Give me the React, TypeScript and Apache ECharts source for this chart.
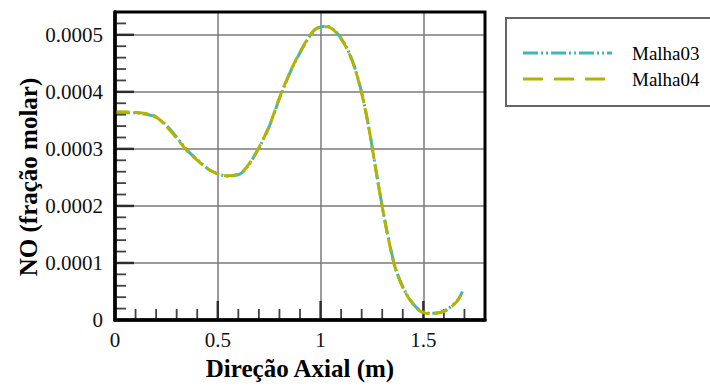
import React, { useEffect, useRef } from "react";
import * as echarts from "echarts";

const malha03X = [0, 0.1, 0.185, 0.233, 0.29, 0.35, 0.41, 0.46, 0.51, 0.55, 0.62, 0.69, 0.75, 0.81, 0.88, 0.97, 1.03, 1.076, 1.125, 1.165, 1.205, 1.238, 1.27, 1.303, 1.335, 1.367, 1.416, 1.48, 1.545, 1.61, 1.667, 1.69];
const malha03Y = [0.000364, 0.000363, 0.000358, 0.000347, 0.000325, 0.000298, 0.000278, 0.000263, 0.000255, 0.000252, 0.000259, 0.000295, 0.000339, 0.000398, 0.000455, 0.000508, 0.000515, 0.000505, 0.000479, 0.000444, 0.000391, 0.000331, 0.000262, 0.000193, 0.000135, 0.000088, 0.000047, 0.0000175, 0.0000117, 0.0000175, 0.000035, 0.00005];
const malha04X = [0, 0.1, 0.185, 0.233, 0.29, 0.35, 0.41, 0.46, 0.51, 0.55, 0.62, 0.69, 0.75, 0.81, 0.88, 0.97, 1.03, 1.076, 1.125, 1.165, 1.205, 1.238, 1.27, 1.303, 1.335, 1.367, 1.416, 1.48, 1.545, 1.61, 1.667, 1.69];
const malha04Y = [0.000365, 0.000364, 0.000359, 0.000346, 0.000323, 0.000297, 0.000277, 0.000263, 0.000255, 0.000253, 0.00026, 0.000296, 0.00034, 0.000399, 0.000456, 0.000509, 0.000514, 0.000504, 0.000478, 0.000443, 0.00039, 0.00033, 0.000261, 0.000192, 0.000134, 0.000087, 0.000046, 0.0000165, 0.0000107, 0.0000165, 0.000034, 0.000051];
const seriesNames = ["Malha03", "Malha04"];
const xTitle = "Direção Axial (m)";
const yTitle = "NO (fração molar)";

const xMajorTicks = [0.5, 1, 1.5];
const xMinorTicks = [0.1, 0.2, 0.3, 0.4, 0.6, 0.7, 0.8, 0.9, 1.1, 1.2, 1.3, 1.4, 1.6, 1.7];
const yMajorTicks = [0.0001, 0.0002, 0.0003, 0.0004, 0.0005];
const yMinorTicks = [
  0.00002, 0.00004, 0.00006, 0.00008, 0.00012, 0.00014, 0.00016, 0.00018, 0.00022, 0.00024, 0.00026, 0.00028,
  0.00032, 0.00034, 0.00036, 0.00038, 0.00042, 0.00044, 0.00046, 0.00048, 0.00052,
];

const CYAN = "#3fb6b8";
const OLIVE = "#b4b400";
const TICK = "#111111";
const SERIF = "Liberation Serif, serif";
const MAJOR_LEN = 19;
const MINOR_LEN = 11;

export default function App() {
  const ref = useRef<HTMLDivElement>(null);
  useEffect(() => {
    if (!ref.current) return;
    const chart = echarts.init(ref.current, undefined, { renderer: "svg" });
    const zip = (xs: number[], ys: number[]) => xs.map((x, i) => [x, ys[i]]);
    const XMAX = 1.8;
    const YMAX = 0.00054;
    const GRID = { left: 115, top: 12, right: 225, bottom: 68 };
    const PLOT_W = 710 - GRID.left - GRID.right;
    const PLOT_H = 388 - GRID.top - GRID.bottom;
    // half a tick length, expressed in axis units, so each tick starts at the axis and points inward
    const yHalf = (len: number) => (len / 2 / PLOT_H) * YMAX;
    const xHalf = (len: number) => (len / 2 / PLOT_W) * XMAX;

    // [x, y, kind] where kind 1 = major, 0 = minor
    const xTickData = [
      ...xMajorTicks.map((v) => [v, yHalf(MAJOR_LEN), 1]),
      ...xMinorTicks.map((v) => [v, yHalf(MINOR_LEN), 0]),
    ];
    const yTickData = [
      ...yMajorTicks.map((v) => [xHalf(MAJOR_LEN), v, 1]),
      ...yMinorTicks.map((v) => [xHalf(MINOR_LEN), v, 0]),
    ];

    chart.setOption({
      animation: false,
      backgroundColor: "#ffffff",
      grid: { ...GRID, show: false },
      xAxis: {
        type: "value",
        min: 0,
        max: XMAX,
        interval: 0.5,
        position: "bottom",
        name: xTitle,
        nameLocation: "middle",
        nameGap: 36,
        nameTextStyle: { fontFamily: SERIF, fontSize: 25, fontWeight: "bold", color: "#000" },
        axisLine: { show: true, lineStyle: { color: "#000", width: 3.5 } },
        axisTick: { show: false },
        axisLabel: {
          margin: 9,
          fontFamily: SERIF,
          fontSize: 21,
          color: "#111",
          showMaxLabel: false,
          formatter: (v: number) => {
            const r = Math.round(v * 10) / 10;
            return Math.abs(r / 0.5 - Math.round(r / 0.5)) < 1e-6 ? String(r) : "";
          },
        },
        splitLine: { show: true, lineStyle: { color: "#7a7a7a", width: 1.5 } },
      },
      yAxis: {
        type: "value",
        min: 0,
        max: YMAX,
        interval: 0.0001,
        position: "left",
        axisLine: { show: true, lineStyle: { color: "#000", width: 3.5 } },
        axisTick: { show: false },
        axisLabel: {
          margin: 12,
          fontFamily: SERIF,
          fontSize: 21,
          color: "#111",
          showMaxLabel: false,
          formatter: (v: number) => (v === 0 ? "0" : v.toFixed(4)),
        },
        splitLine: { show: true, lineStyle: { color: "#7a7a7a", width: 1.5 } },
      },
      series: [
        {
          type: "scatter",
          name: "xTicks",
          silent: true,
          z: 6,
          data: xTickData,
          symbol: "rect",
          symbolSize: (v: number[]) => (v[2] === 1 ? [2.5, MAJOR_LEN] : [1.8, MINOR_LEN]),
          itemStyle: { color: TICK },
          clip: true,
        },
        {
          type: "scatter",
          name: "yTicks",
          silent: true,
          z: 6,
          data: yTickData,
          symbol: "rect",
          symbolSize: (v: number[]) => (v[2] === 1 ? [MAJOR_LEN, 2.5] : [MINOR_LEN, 1.8]),
          itemStyle: { color: TICK },
          clip: true,
        },
        {
          name: seriesNames[0],
          type: "line",
          data: zip(malha03X, malha03Y),
          smooth: 0.3,
          showSymbol: false,
          lineStyle: { color: CYAN, width: 3, type: [15, 3, 2, 3, 2, 3] },
          z: 7,
        },
        {
          name: seriesNames[1],
          type: "line",
          data: zip(malha04X, malha04Y),
          smooth: 0.3,
          showSymbol: false,
          lineStyle: { color: OLIVE, width: 3, type: [14, 5] },
          z: 8,
        },
      ],
      graphic: [
        {
          type: "rect",
          shape: { x: GRID.left, y: GRID.top, width: PLOT_W, height: PLOT_H },
          style: { fill: "none", stroke: "#000", lineWidth: 3 },
          z: 10,
          silent: true,
        },
        {
          type: "text",
          x: 28,
          y: 177,
          rotation: Math.PI / 2,
          style: {
            text: yTitle,
            fontFamily: SERIF,
            fontSize: 25,
            fontWeight: "bold",
            fill: "#000",
            textAlign: "center",
            textVerticalAlign: "middle",
          },
        },
        {
          type: "rect",
          shape: { x: 506, y: 18, width: 220, height: 88 },
          style: { fill: "#fff", stroke: "#666", lineWidth: 2 },
        },
        {
          type: "line",
          shape: { x1: 523, y1: 53, x2: 612, y2: 53 },
          style: { stroke: CYAN, lineWidth: 3, lineDash: [15, 3, 2, 3, 2, 3] },
        },
        {
          type: "line",
          shape: { x1: 523, y1: 79, x2: 608, y2: 79 },
          style: { stroke: OLIVE, lineWidth: 3, lineDash: [20, 11] },
        },
        {
          type: "text",
          x: 632,
          y: 53,
          style: { text: seriesNames[0], fontFamily: SERIF, fontSize: 19, fill: "#000", textAlign: "left", textVerticalAlign: "middle" },
        },
        {
          type: "text",
          x: 632,
          y: 79,
          style: { text: seriesNames[1], fontFamily: SERIF, fontSize: 19, fill: "#000", textAlign: "left", textVerticalAlign: "middle" },
        },
      ],
    });
    return () => chart.dispose();
  }, []);
  return <div ref={ref} style={{ position: "fixed", left: 0, top: 0, width: 710, height: 388, background: "#fff" }} />;
}
